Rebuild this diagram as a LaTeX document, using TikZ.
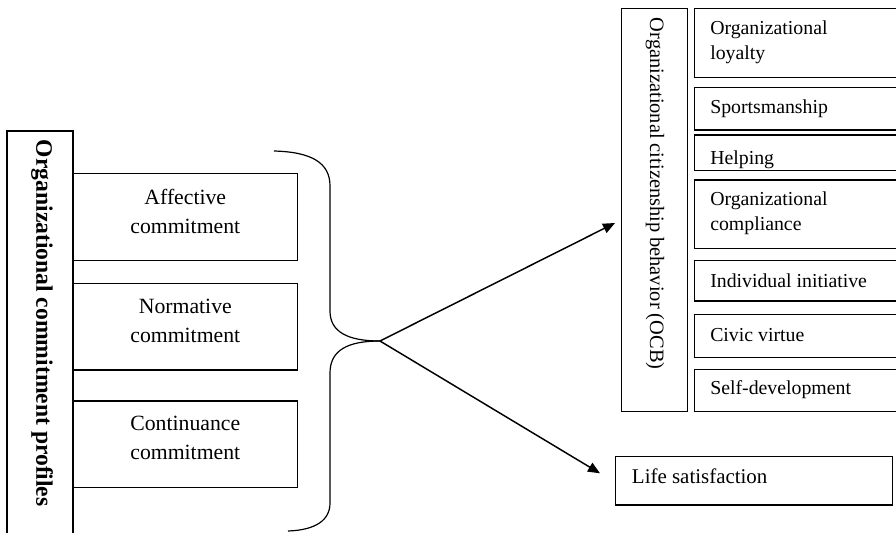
\documentclass[tikz,border=0pt]{standalone}
\usepackage{fontspec}
\setmainfont{Liberation Serif}
\usetikzlibrary{arrows.meta,fit}
\begin{document}
\begin{tikzpicture}[x=0.75pt,y=-0.75pt,
  box/.style={draw,line width=0.9pt,inner sep=0pt,outer sep=0pt},
  lefttxt/.style={align=center,font=\fontsize{16.3pt}{21.75pt}\selectfont,inner sep=0pt},
  subtxt/.style={anchor=west,align=left,font=\fontsize{14.85pt}{19pt}\selectfont,inner sep=0pt},
  brace/.style={line width=0.9pt},
  arr/.style={line width=1.1pt,-{Triangle[length=9pt,width=7.5pt]}}]
\useasboundingbox (0,0) rectangle (896,532);

% left title box
\node[box,fit={(7,131)(73,545)}] (ocp) {};
\node[rotate=-90,inner sep=0pt,font=\fontsize{17.7pt}{20pt}\selectfont\bfseries] (ocptxt) at (42,323.3) {Organizational commitment profiles};

% commitment boxes
\node[box,fit={(73,173.3)(297.7,260.7)}] (aff) {};
\node[lefttxt] (afftxt) at (185.3,211) {Affective\\commitment};
\node[box,fit={(73,283.3)(297.7,370)}] (nor) {};
\node[lefttxt] (nortxt) at (185.3,320.5) {Normative\\commitment};
\node[box,fit={(73,401)(297.7,487.7)}] (con) {};
\node[lefttxt] (context) at (185.3,438) {Continuance\\commitment};

% brace
\coordinate (tip) at (380,341);
\draw[brace] (274,151) .. controls (312,152) and (330,163) .. (330,186) -- (330,311)
  .. controls (330,332) and (348,341) .. (tip);
\draw[brace] (tip) .. controls (348,341) and (330,350) .. (330,373) -- (330,503)
  .. controls (330,520) and (316,530) .. (288,531);

% OCB box
\node[box,fit={(621.7,8.3)(687.3,411.7)}] (ocb) {};
\node[rotate=-90,inner sep=0pt,font=\fontsize{15.3pt}{18pt}\selectfont] (ocbtxt) at (655,193.7) {Organizational citizenship behavior (OCB)};

% OCB dimensions
\node[box,fit={(694.3,8.3)(900,77.3)}] (loy) {};
\node[subtxt] (loytxt) at (710,42) {Organizational\\loyalty};
\node[box,fit={(694.3,87.3)(900,130)}] (spo) {};
\node[subtxt] (spotxt) at (710,108.7) {Sportsmanship};
\node[box,fit={(694.3,135)(900,170.7)}] (hel) {};
\begin{scope}
  \clip (694.3,135) rectangle (900,170.7);
  \node[subtxt,anchor=base west] (heltxt) at (710,164) {Helping};
\end{scope}
\node[box,fit={(694.3,180)(900,248.3)}] (com) {};
\node[subtxt] (comtxt) at (710,213.5) {Organizational\\compliance};
\node[box,fit={(694.3,260.7)(900,301)}] (ini) {};
\node[subtxt] (initxt) at (710,280.5) {Individual initiative};
\node[box,fit={(694.3,314.3)(900,357.7)}] (civ) {};
\node[subtxt] (civtxt) at (710,335) {Civic virtue};
\node[box,fit={(694.3,369.3)(900,411.7)}] (sel) {};
\node[subtxt] (seltxt) at (710,390) {Self-development};

% life satisfaction
\node[box,fit={(615.3,456.7)(892.7,505)}] (life) {};
\node[anchor=base west,inner sep=0pt,font=\fontsize{15.7pt}{19pt}\selectfont] (lifetxt) at (631.7,483) {Life satisfaction};

% arrows
\coordinate (ocbend) at (615,223);
\coordinate (lifeend) at (600,473.3);
\draw[arr] (tip) -- (ocbend);
\draw[arr] (tip) -- (lifeend);
\end{tikzpicture}
\end{document}
